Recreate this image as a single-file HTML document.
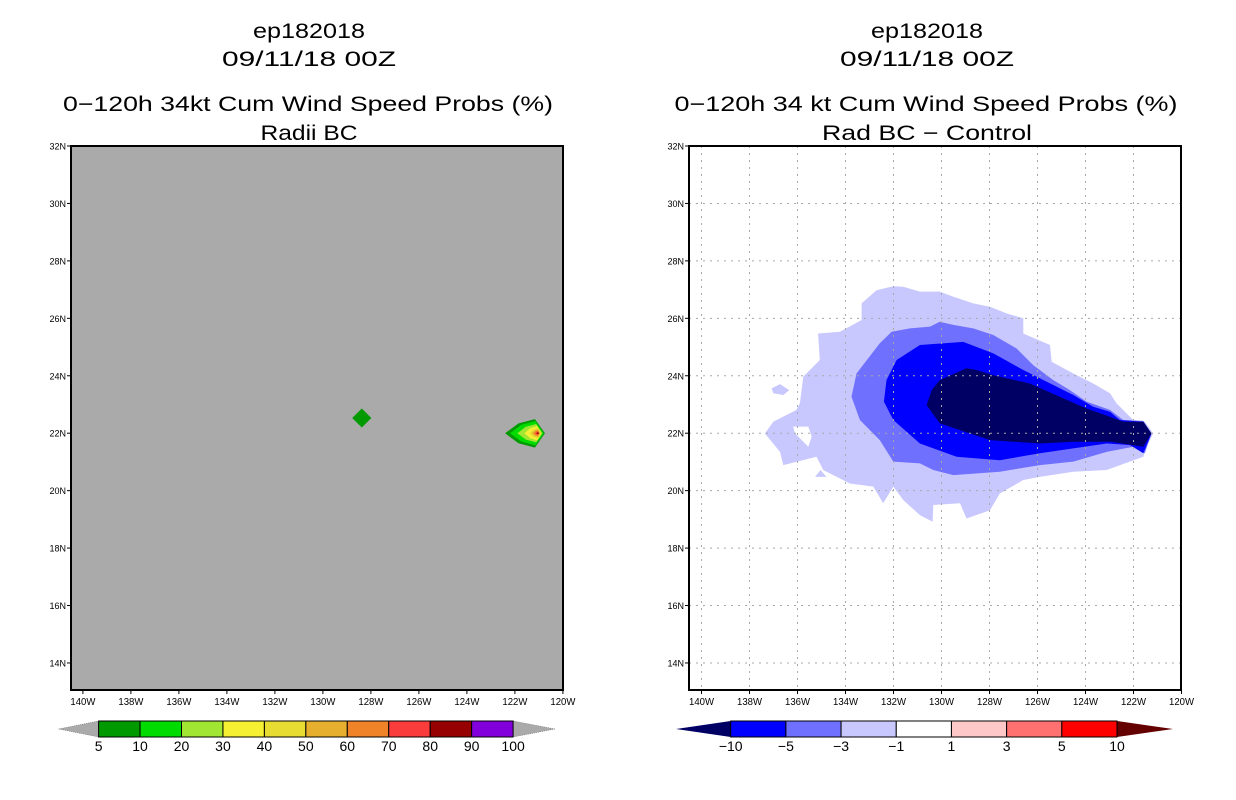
<!DOCTYPE html>
<html><head><meta charset="utf-8"><style>
html,body{margin:0;padding:0;background:#fff;}
svg{display:block;font-family:"Liberation Sans","DejaVu Sans",sans-serif;}
</style></head><body>
<svg id="c" width="1236" height="800" viewBox="0 0 1236 800" xmlns="http://www.w3.org/2000/svg">
<rect width="1236" height="800" fill="#fff"/>
<g font-size="21" text-anchor="middle" fill="#000">
<text x="309" y="38" textLength="112" lengthAdjust="spacingAndGlyphs">ep182018</text>
<text x="309" y="66" textLength="174" lengthAdjust="spacingAndGlyphs">09/11/18 00Z</text>
<text x="308" y="111" textLength="490" lengthAdjust="spacingAndGlyphs">0−120h 34kt Cum Wind Speed Probs (%)</text>
<text x="309" y="140" textLength="97" lengthAdjust="spacingAndGlyphs">Radii BC</text>
</g>
<g font-size="21" text-anchor="middle" fill="#000">
<text x="927" y="38" textLength="112" lengthAdjust="spacingAndGlyphs">ep182018</text>
<text x="927" y="66" textLength="174" lengthAdjust="spacingAndGlyphs">09/11/18 00Z</text>
<text x="926" y="111" textLength="503" lengthAdjust="spacingAndGlyphs">0−120h 34 kt Cum Wind Speed Probs (%)</text>
<text x="927" y="140" textLength="210" lengthAdjust="spacingAndGlyphs">Rad BC − Control</text>
</g>
<g id="L"></g>
<g id="R"></g>
<g id="CB"></g>
</svg>
<script>
// ---------- data ----------
const latTicks = [32,30,28,26,24,22,20,18,16,14];
const lonTicks = [-140,-138,-136,-134,-132,-130,-128,-126,-124,-122,-120];
const probLevels = [5,10,20,30,40,50,60,70,80,90,100];
const probColors = ["#009a00","#00dc00","#a0e632","#f5f032","#e6dc32","#e6af2d","#f08228","#fa3c3c","#960000","#8200dc"];
const diffLevels = [-10,-5,-3,-1,1,3,5,10];
const diffColors = ["#000064","#0000ff","#7070ff","#c8c8ff","#ffffff","#ffc8c8","#ff7070","#ff0000","#640000"];
// left panel: hotspot nested contours [westLon, eastLon, northLat, southLat]
const hotWest  = [-122.41,-122.2,-121.9,-121.6,-121.4,-121.3,-121.22,-121.15,-121.1];
const hotEast  = [-120.75,-120.8,-120.85,-120.9,-120.92,-120.95,-120.98,-121.0,-121.0];
const hotNorth = [22.49,22.42,22.32,22.25,22.18,22.13,22.1,22.06,22.03];
const hotSouth = [21.50,21.58,21.68,21.75,21.82,21.87,21.9,21.94,21.97];
const spotLon = -128.38, spotLat = 22.53;
// right panel contour polygons (lon, lat)
const lightLon = [-133.33,-132.71,-132.01,-131.59,-130.90,-130.07,-129.51,-128.68,-127.98,-127.29,-126.59,-126.59,-125.48,-125.41,-124.51,-123.68,-122.98,-122.71,-122.29,-122.01,-121.53,-121.18,-121.46,-121.59,-123.12,-124.51,-125.90,-126.59,-127.57,-127.98,-128.96,-129.23,-130.34,-130.37,-130.90,-131.59,-132.01,-132.43,-132.84,-133.82,-134.93,-135.21,-136.59,-136.73,-137.36,-137.01,-136.04,-135.90,-135.76,-135.07,-135.14,-134.23,-133.33];
const lightLat = [26.52,26.98,27.12,27.10,26.93,26.93,26.75,26.52,26.40,26.17,26.00,25.47,25.07,24.49,24.08,23.73,23.39,23.04,22.69,22.46,22.40,21.99,21.53,21.18,20.72,20.66,20.48,20.37,19.90,19.32,19.03,19.56,19.50,18.92,19.15,19.67,20.14,19.56,20.14,20.25,20.72,21.18,20.89,21.35,21.99,22.40,22.81,23.04,23.97,24.55,25.47,25.53,25.94];
const holeLon = [-136.18,-135.55,-135.41,-135.55,-136.11];
const holeLat = [22.23,22.23,21.88,21.53,22.00];
const isle1Lon = [-137.08,-136.73,-136.34,-136.59,-137.01];
const isle1Lat = [23.56,23.71,23.50,23.33,23.39];
const isle2Lon = [-135.27,-135.04,-134.79];
const isle2Lat = [20.48,20.72,20.48];
const medLon = [-132.08,-131.32,-130.48,-130.07,-129.51,-128.68,-127.84,-126.87,-126.18,-125.34,-124.65,-123.96,-122.98,-122.43,-121.59,-121.25,-121.53,-122.01,-123.12,-124.51,-125.90,-127.57,-129.51,-130.34,-130.90,-132.01,-132.57,-133.40,-133.75,-133.54,-132.57];
const medLat = [25.53,25.65,25.71,25.88,25.77,25.65,25.42,24.95,24.37,23.85,23.50,23.10,22.81,22.46,22.43,21.99,21.30,21.53,21.35,21.01,20.89,20.66,20.54,20.72,20.95,21.01,21.76,22.46,23.27,24.08,25.13];
const blueLon = [-131.87,-130.90,-129.09,-127.84,-126.59,-125.34,-124.51,-123.68,-122.98,-122.57,-121.59,-121.25,-121.59,-122.15,-123.12,-124.51,-125.90,-127.57,-129.37,-130.90,-132.01,-132.40,-132.29];
const blueLat = [24.55,25.07,25.18,24.78,24.20,23.68,23.33,22.92,22.75,22.46,22.40,21.99,21.30,21.59,21.64,21.47,21.30,21.06,21.18,21.64,22.46,23.10,23.85];
const navyLon = [-130.07,-128.96,-128.54,-127.84,-126.32,-125.07,-123.96,-122.98,-122.43,-121.59,-121.25,-121.59,-122.98,-124.51,-125.90,-127.98,-130.07,-130.62,-130.41];
const navyLat = [23.85,24.26,24.20,24.02,23.73,23.27,22.86,22.57,22.40,22.40,21.99,21.53,21.70,21.70,21.64,21.76,22.34,22.98,23.50];

// ---------- helpers ----------
const NS = "http://www.w3.org/2000/svg";
function mk(tag, attrs, parent){
  const e = document.createElementNS(NS, tag);
  for (const k in attrs) e.setAttribute(k, attrs[k]);
  parent.appendChild(e);
  return e;
}
const PX0 = 71, PX1 = 563, RX0 = 689, RX1 = 1181, PY0 = 146, PY1 = 690;
function xL(lon){ return 82.9 + (lon + 140) * 24.0; }
function xR(lon){ return 701.5 + (lon + 140) * 24.0; }
function yM(lat){ return 146 + (32 - lat) * 28.72; }
function pts(lons, lats, fx){ return lons.map((v,i)=> fx(v).toFixed(1)+","+yM(lats[i]).toFixed(1)).join(" "); }

function axes(g, x0, x1, fx, side){
  latTicks.forEach(lat=>{
    const y = yM(lat);
    const t = mk("line",{x1:x0-4,x2:x0,y1:y,y2:y,stroke:"#000","stroke-width":1},g);
    
    
    const tx = mk("text",{x:x0-5,y:y+3.5,"font-size":9,"text-anchor":"end"},g);
    
    
    tx.textContent = lat + "N";
  });
  lonTicks.forEach(lon=>{
    const x = fx(lon);
    const t = mk("line",{x1:x,x2:x,y1:PY1,y2:PY1+4,stroke:"#000","stroke-width":1},g);
    
    
    const tx = mk("text",{x:x,y:PY1+15,"font-size":10,"text-anchor":"middle",textLength:25,lengthAdjust:"spacingAndGlyphs"},g);
    
    
    tx.textContent = (-lon) + "W";
  });
}

// ---------- left panel ----------
const L = document.getElementById("L");


const lbg = mk("rect",{x:PX0,y:PY0,width:PX1-PX0,height:PY1-PY0,fill:"#aaaaaa"},L);


const spot = mk("polygon",{points:pts([spotLon-0.4,spotLon,spotLon+0.4,spotLon],[spotLat,spotLat+0.33,spotLat,spotLat-0.33],xL),fill:"#009a00"},L);


hotWest.forEach((w,i)=>{
  const e = hotEast[i], n = hotNorth[i], s = hotSouth[i];
  const mid = (n+s)/2, cx = e - (e-w)*0.25;
  const lons = [w, w+(cx-w)*0.45, cx, e, cx, w+(cx-w)*0.45];
  const lats = [mid, mid+(n-mid)*0.7, n, mid, s, mid-(mid-s)*0.7];
  const p = mk("polygon",{points:pts(lons,lats,xL),fill:probColors[i]},L);
  
  
});
const lfr = mk("rect",{x:PX0,y:PY0,width:PX1-PX0,height:PY1-PY0,fill:"none",stroke:"#000","stroke-width":2},L);


axes(L, PX0, PX1, xL, "left");

// ---------- right panel ----------
const R = document.getElementById("R");


const shapes = [
  ["diff-contour-light", lightLon, lightLat, diffColors[3]],
  ["diff-hole", holeLon, holeLat, "#ffffff"],
  ["diff-island-1", isle1Lon, isle1Lat, diffColors[3]],
  ["diff-island-2", isle2Lon, isle2Lat, diffColors[3]],
  ["diff-contour-medium", medLon, medLat, diffColors[2]],
  ["diff-contour-blue", blueLon, blueLat, diffColors[1]],
  ["diff-contour-navy", navyLon, navyLat, diffColors[0]]
];
shapes.forEach(s=>{
  const p = mk("polygon",{points:pts(s[1],s[2],xR),fill:s[3]},R);
  
  
});
latTicks.forEach(lat=>{
  if (lat>=32) return;
  const y = yM(lat);
  const gl = mk("line",{x1:RX0,x2:RX1,y1:y,y2:y,stroke:"#a8a8a8","stroke-width":1,"stroke-dasharray":"2,5"},R);
  
  
});
lonTicks.forEach(lon=>{
  if (lon>=-120) return;
  const x = xR(lon);
  const gl = mk("line",{x1:x,x2:x,y1:PY0,y2:PY1,stroke:"#a8a8a8","stroke-width":1,"stroke-dasharray":"2,5"},R);
  
  
});
const rfr = mk("rect",{x:RX0,y:PY0,width:RX1-RX0,height:PY1-PY0,fill:"none",stroke:"#000","stroke-width":2},R);


axes(R, RX0, RX1, xR, "right");

// ---------- colorbars ----------
const CB = document.getElementById("CB");
const cy0 = 721, cy1 = 737, cym = 729;
function colorbar(levels, colors, x0, x1, tipL, tipR, lcol, rcol, name){
  const g = mk("g",{},CB);
  
  
  const n = levels.length - 1;
  const w = (x1 - x0) / n;
  const tl = mk("polygon",{points:tipL+","+cym+" "+x0+","+cy0+" "+x0+","+cy1,fill:lcol,stroke:lcol==="#aaaaaa"?"#666":"none","stroke-width":0.5,"stroke-dasharray":"1,1"},g);
  
  
  const tr = mk("polygon",{points:tipR+","+cym+" "+x1+","+cy0+" "+x1+","+cy1,fill:rcol,stroke:rcol==="#aaaaaa"?"#666":"none","stroke-width":0.5,"stroke-dasharray":"1,1"},g);
  
  
  for (let i=0;i<n;i++){
    const r = mk("rect",{x:x0+i*w,y:cy0,width:w,height:cy1-cy0,fill:colors[i],stroke:"#000","stroke-width":1},g);
    
    
  }
  levels.forEach((lv,i)=>{
    const t = mk("text",{x:x0+i*w,y:751,"font-size":14,"text-anchor":"middle"},g);
    
    
    t.textContent = String(lv).replace("-","−");
  });
}
colorbar(probLevels, probColors, 98.6, 513.1, 58.5, 555, "#aaaaaa", "#aaaaaa", "prob-colorbar");
colorbar(diffLevels, diffColors.slice(1,8), 730.7, 1117, 676, 1173, diffColors[0], diffColors[8], "diff-colorbar");
</script>
</body></html>
